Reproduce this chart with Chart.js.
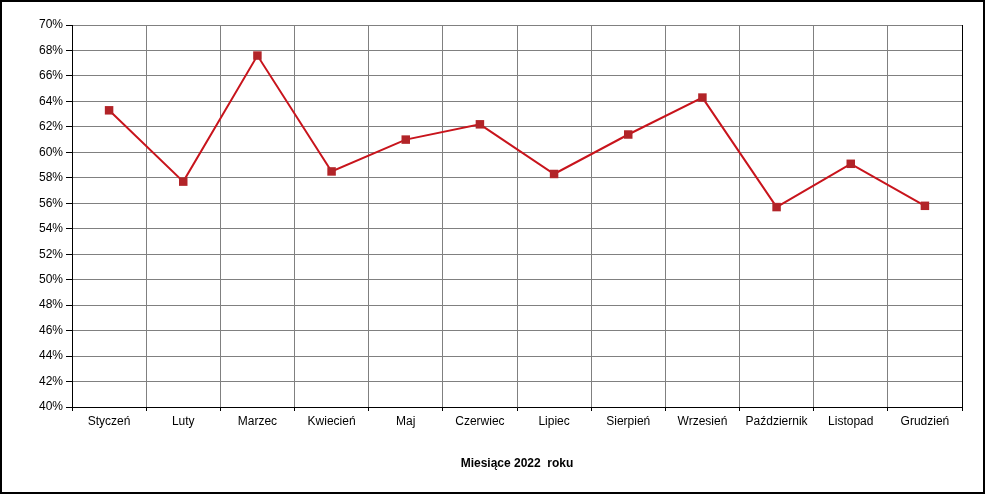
<!DOCTYPE html>
<html>
<head>
<meta charset="utf-8">
<script src="https://cdn.jsdelivr.net/npm/chart.js@4"></script>
<style>
  body { margin: 0; background: #fff; }
  canvas { display: block; }
</style>
</head>
<body>
<canvas id="lineChart" width="995" height="500" style="width:995px;height:500px"></canvas>
<script>
const months = ['Styczeń', 'Luty', 'Marzec', 'Kwiecień', 'Maj', 'Czerwiec', 'Lipiec', 'Sierpień', 'Wrzesień', 'Październik', 'Listopad', 'Grudzień'];
const values = [63.3, 57.7, 67.6, 58.5, 61.0, 62.2, 58.3, 61.4, 64.3, 55.7, 59.1, 55.8];
const yMin = 40;
const yMax = 70;
const yStep = 2;
const axisTitle = 'Miesiące 2022  roku';

// ramka wokół wykresu i prawa krawędź obszaru
const framePlugin = {
    id: 'frame',
    afterDraw(chart) {
        const c = chart.ctx;
        const a = chart.chartArea;
        c.save();
        c.strokeStyle = '#000';
        c.lineWidth = 1;
        c.beginPath();
        c.moveTo(Math.round(a.right) + 0.5, a.top);
        c.lineTo(Math.round(a.right) + 0.5, a.bottom);
        c.stroke();
        c.lineWidth = 2;
        c.strokeRect(1, 1, 983, 492);
        c.restore();
    }
};

const ctx = document.getElementById('lineChart').getContext('2d');
Chart.defaults.font.family = '"Liberation Sans", Arial, sans-serif';
Chart.defaults.font.size = 12;
Chart.defaults.color = '#000';

new Chart(ctx, {
    type: 'line',
    data: {
        labels: months,
        datasets: [{
            data: values,
            borderColor: '#c8141c',
            borderWidth: 2,
            backgroundColor: '#b22428',
            pointStyle: 'rect',
            pointRadius: 6,
            pointBorderColor: '#b22428',
            pointBackgroundColor: '#b22428',
            pointBorderWidth: 0,
            tension: 0,
            fill: false
        }]
    },
    options: {
        responsive: false,
        animation: false,
        layout: { padding: { top: 25, right: 33, left: 0, bottom: 0 } },
        plugins: {
            legend: { display: false },
            tooltip: { enabled: false }
        },
        scales: {
            x: {
                offset: true,
                grid: {
                    offset: true,
                    color: '#808080',
                    tickColor: '#000',
                    tickLength: 4,
                    lineWidth: 1
                },
                border: { color: '#000', width: 1 },
                ticks: { padding: 3, maxRotation: 0, autoSkip: false },
                title: {
                    display: true,
                    text: axisTitle,
                    font: { weight: 'bold', size: 12 },
                    padding: { top: 0, bottom: 29 }
                },
                afterFit(scale) { scale.height = 93; }
            },
            y: {
                min: yMin,
                max: yMax,
                grid: {
                    color: '#808080',
                    tickColor: '#000',
                    tickLength: 6,
                    lineWidth: 1
                },
                border: { color: '#000', width: 1 },
                ticks: {
                    stepSize: yStep,
                    padding: 3,
                    callback: v => v + '%'
                },
                afterFit(scale) { scale.width = 72; }
            }
        }
    },
    plugins: [framePlugin]
});
</script>
</body>
</html>
